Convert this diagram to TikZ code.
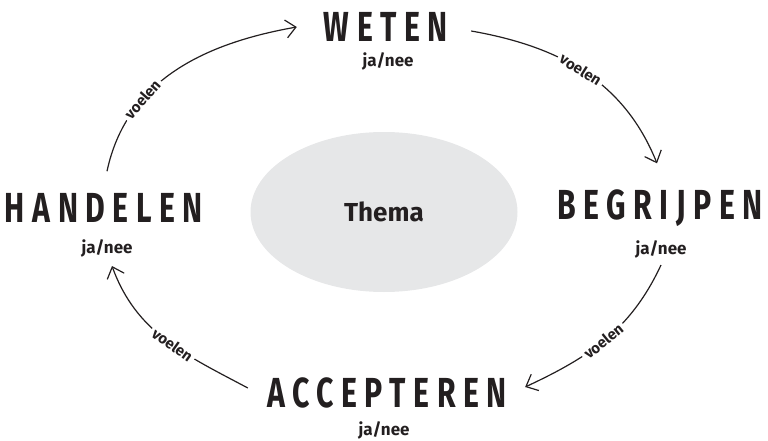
\documentclass[tikz,border=0pt]{standalone}
\usepackage{fontspec}
\setmainfont{Fira Sans}
\newfontfamily\marqueefont[LetterSpace=25]{Fira Sans}
\usetikzlibrary{arrows.meta,shapes.geometric}
\definecolor{ink}{HTML}{231F20}
\definecolor{themagrey}{HTML}{E6E7E8}
\newcommand\smal[1]{\scalebox{0.72}[1]{#1}}

\begin{document}
\begin{tikzpicture}[x=1pt, y=1pt, every node/.style={text=ink},
      stap/.style={font=\fontsize{42}{42}\selectfont\marqueefont\bfseries, inner sep=0pt},
      keuze/.style={font=\fontsize{17}{17}\selectfont\bfseries, inner sep=0pt},
      gevoel/.style={font=\fontsize{15}{15}\selectfont\bfseries, fill=white, inner sep=3pt, sloped},
      pijl/.style={draw=ink, line width=1.2pt, -{Straight Barb[length=10pt, width=18pt]}}]
    \useasboundingbox (0,0) rectangle (768,-441);
    \node[ellipse, fill=themagrey, minimum width=267pt, minimum height=160pt,
          font=\fontsize{26}{26}\selectfont\bfseries] (thema) at (384,-212) {Thema};
    % de vier stappen
    \node[stap] (weten) at (386,-27) {\smal{WETEN}};
    \node[keuze] (jaweten) at (388,-61) {ja/nee};
    \node[stap] (begrijpen) at (660,-208) {\smal{BEGRIJPEN}};
    \node[keuze] (jabegrijpen) at (661,-249) {ja/nee};
    \node[stap] (accepteren) at (387,-393) {\smal{ACCEPTEREN}};
    \node[keuze] (jaaccepteren) at (384,-430) {ja/nee};
    \node[stap] (handelen) at (104,-208) {\smal{HANDELEN}};
    \node[keuze] (jahandelen) at (107,-248) {ja/nee};
    % pijlen
    \draw[pijl] ([xshift=3pt, yshift=22pt]handelen.north) to[out=78, in=190]
      node[gevoel, pos=0.32] {voelen} ([xshift=-27pt]weten.west);
    \draw[pijl] ([xshift=23pt, yshift=-4pt]weten.east) to[out=-10, in=112]
      node[gevoel, pos=0.48] {voelen} ([xshift=-3pt, yshift=26pt]begrijpen.north);
    \draw[pijl] ([yshift=-7pt]jabegrijpen.south) to[out=-115, in=25]
      node[gevoel, pos=0.52] {voelen} ([xshift=18pt, yshift=6pt]accepteren.east);
    \draw[pijl] ([xshift=-19pt, yshift=5pt]accepteren.west) to[out=152, in=-70]
      node[gevoel, pos=0.45] {voelen} ([xshift=5pt, yshift=-9pt]jahandelen.south);
  \end{tikzpicture}
\end{document}
